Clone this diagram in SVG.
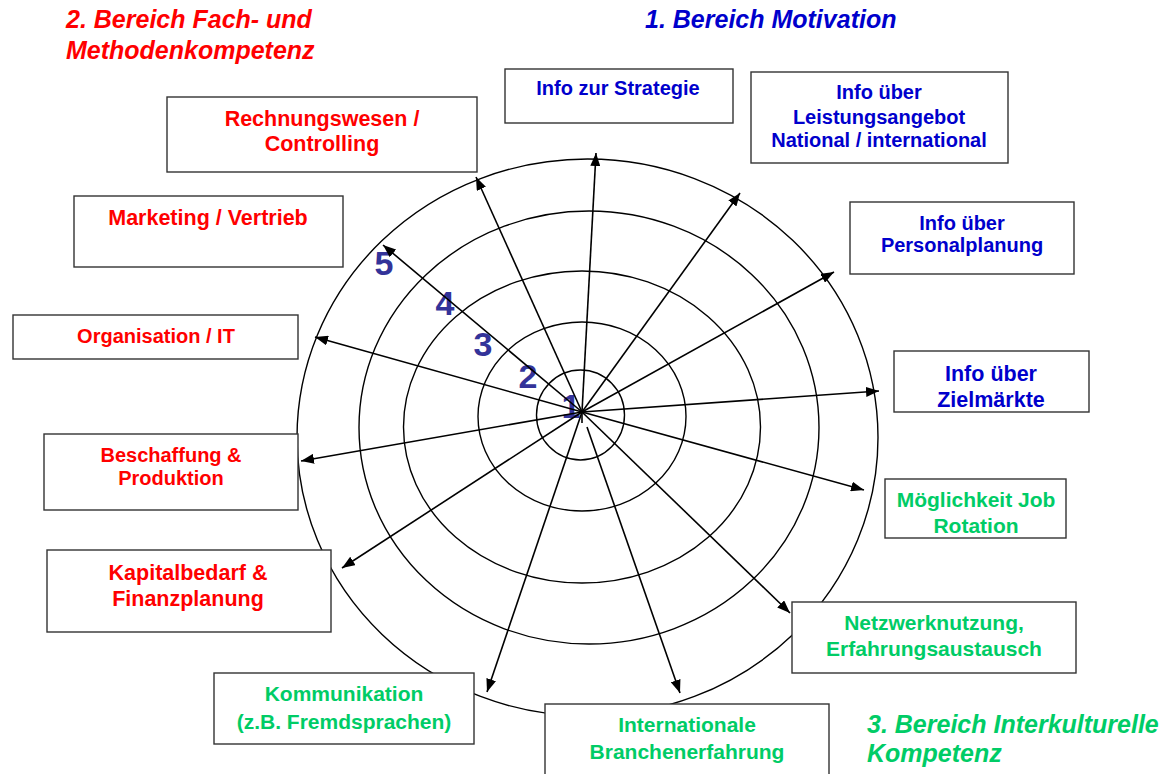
<svg xmlns="http://www.w3.org/2000/svg" width="1172" height="774" viewBox="0 0 1172 774">
<style>
.box{fill:#fff;stroke:#333;stroke-width:1.4}
.t{font-family:"Liberation Sans",Arial,sans-serif;font-weight:bold;text-anchor:middle}
.red{fill:#ff0000}.blue{fill:#0000cc}.green{fill:#00cc66}
.title{font-family:"Liberation Sans",Arial,sans-serif;font-weight:bold;font-style:italic;font-size:25px}
.ring{fill:none;stroke:#000;stroke-width:1.4}
.ray{stroke:#000;stroke-width:1.6;fill:none;marker-end:url(#ah)}
.num{font-family:"Liberation Sans",Arial,sans-serif;font-weight:bold;font-size:34px;fill:#333399;text-anchor:middle}
</style>
<defs>
<marker id="ah" markerUnits="userSpaceOnUse" markerWidth="14" markerHeight="10" refX="13" refY="5" orient="auto">
<path d="M0,0 L13,5 L0,10 z" fill="#000"/>
</marker>
</defs>
<rect width="1172" height="774" fill="#fff"/>
<g id="rings">
<ellipse class="ring" cx="587.5" cy="437.5" rx="290.5" ry="278.5"/>
<ellipse class="ring" cx="589" cy="427.5" rx="230" ry="216.5"/>
<ellipse class="ring" cx="582" cy="427" rx="178.5" ry="156"/>
<ellipse class="ring" cx="582" cy="416.5" rx="104" ry="94.5"/>
<ellipse class="ring" cx="580.5" cy="415" rx="44" ry="45"/>
</g>
<g id="titles">
<text class="title red" x="66" y="28">2. Bereich Fach- und</text>
<text class="title red" x="66" y="59">Methodenkompetenz</text>
<text class="title blue" x="645" y="28">1. Bereich Motivation</text>
<text class="title green" x="867" y="733">3. Bereich Interkulturelle</text>
<text class="title green" x="867" y="762">Kompetenz</text>
</g>
<g id="node-strategie"><rect class="box" x="505" y="69" width="228" height="54"/><text class="t blue" x="618" y="95" font-size="20">Info zur Strategie</text></g>
<g id="node-leistung"><rect class="box" x="751" y="72" width="257" height="91"/><text class="t blue" x="879" y="99" font-size="20">Info über</text><text class="t blue" x="879" y="124" font-size="20">Leistungsangebot</text><text class="t blue" x="879" y="147" font-size="20">National / international</text></g>
<g id="node-personal"><rect class="box" x="850" y="202" width="224" height="72"/><text class="t blue" x="962" y="230" font-size="20">Info über</text><text class="t blue" x="962" y="252" font-size="20">Personalplanung</text></g>
<g id="node-ziel"><rect class="box" x="894" y="351" width="195" height="61"/><text class="t blue" x="991" y="381" font-size="21.5">Info über</text><text class="t blue" x="991" y="407" font-size="21.5">Zielmärkte</text></g>
<g id="node-job"><rect class="box" x="885" y="479" width="181" height="59"/><text class="t green" x="976" y="507" font-size="21">Möglichkeit Job</text><text class="t green" x="976" y="533" font-size="21">Rotation</text></g>
<g id="node-netz"><rect class="box" x="792" y="602" width="284" height="71"/><text class="t green" x="934" y="630" font-size="21">Netzwerknutzung,</text><text class="t green" x="934" y="656" font-size="21">Erfahrungsaustausch</text></g>
<g id="node-intl"><rect class="box" x="545" y="704" width="284" height="80"/><text class="t green" x="687" y="732" font-size="21">Internationale</text><text class="t green" x="687" y="759" font-size="21">Branchenerfahrung</text></g>
<g id="node-komm"><rect class="box" x="214" y="673" width="260" height="71"/><text class="t green" x="344" y="701" font-size="21">Kommunikation</text><text class="t green" x="344" y="729" font-size="21">(z.B. Fremdsprachen)</text></g>
<g id="node-kapital"><rect class="box" x="47" y="550" width="284" height="82"/><text class="t red" x="188" y="580" font-size="21.5">Kapitalbedarf &amp;</text><text class="t red" x="188" y="606" font-size="21.5">Finanzplanung</text></g>
<g id="node-beschaffung"><rect class="box" x="44" y="434" width="254" height="76"/><text class="t red" x="171" y="462" font-size="20">Beschaffung &amp;</text><text class="t red" x="171" y="485" font-size="20">Produktion</text></g>
<g id="node-organisation"><rect class="box" x="13" y="315" width="285" height="44"/><text class="t red" x="156" y="343" font-size="20">Organisation / IT</text></g>
<g id="node-marketing"><rect class="box" x="74" y="196" width="269" height="71"/><text class="t red" x="208" y="225" font-size="21.5">Marketing / Vertrieb</text></g>
<g id="node-rechnung"><rect class="box" x="167" y="97" width="310" height="75"/><text class="t red" x="322" y="126" font-size="21.5">Rechnungswesen /</text><text class="t red" x="322" y="151" font-size="21.5">Controlling</text></g>
<g id="numbers">
<text class="num" x="571" y="418">1</text>
<text class="num" x="528" y="388">2</text>
<text class="num" x="483" y="356">3</text>
<text class="num" x="445" y="315">4</text>
<text class="num" x="384" y="275">5</text>
</g>
<g id="connectors">
<line class="ray" x1="582" y1="412" x2="596" y2="153"/>
<line class="ray" x1="582" y1="412" x2="740" y2="193"/>
<line class="ray" x1="582" y1="412" x2="834" y2="272"/>
<line class="ray" x1="582" y1="412" x2="879" y2="391"/>
<line class="ray" x1="582" y1="412" x2="864" y2="490"/>
<line class="ray" x1="582" y1="412" x2="790" y2="613"/>
<line class="ray" x1="587" y1="427" x2="680" y2="693"/>
<line class="ray" x1="582" y1="412" x2="487" y2="692"/>
<line class="ray" x1="582" y1="412" x2="342" y2="568"/>
<line class="ray" x1="582" y1="412" x2="301" y2="461"/>
<line class="ray" x1="582" y1="412" x2="315" y2="337"/>
<line class="ray" x1="582" y1="412" x2="383" y2="245"/>
<line class="ray" x1="582" y1="412" x2="476" y2="177"/>
<line x1="582" y1="412" x2="582" y2="423" stroke="#000" stroke-width="1.6"/>
</g>
</svg>
